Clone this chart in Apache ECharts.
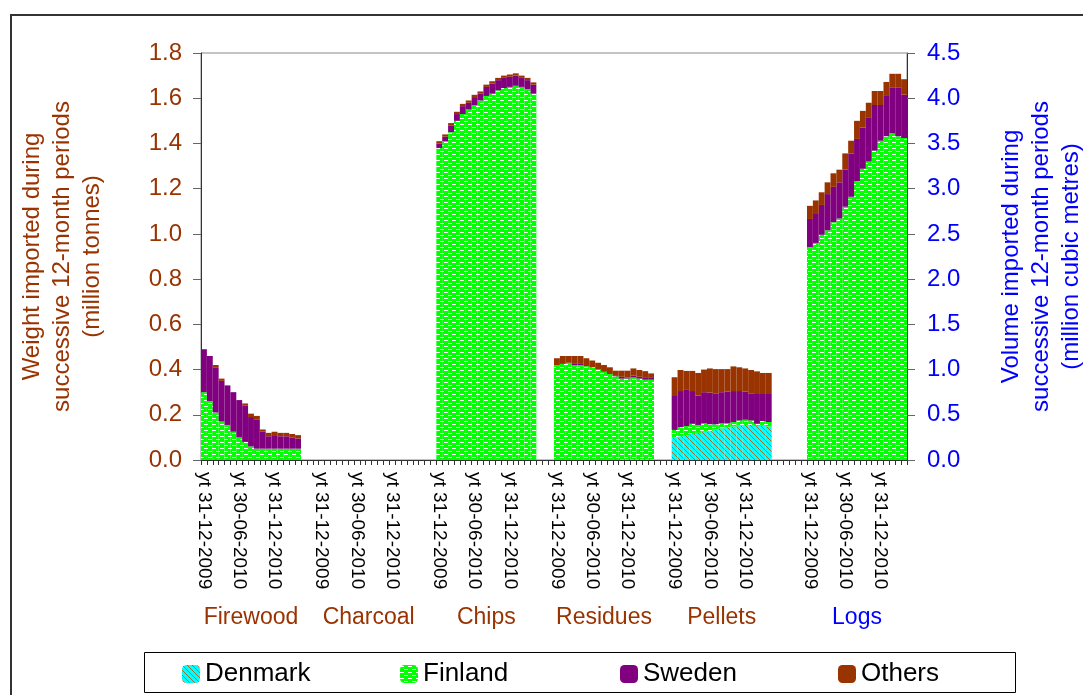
<!DOCTYPE html>
<html>
<head>
<meta charset="utf-8">
<script src="https://cdn.jsdelivr.net/npm/echarts@6/dist/echarts.min.js"></script>
<style>
html, body { margin: 0; padding: 0; background: #fff; overflow: hidden; }
#frame { position: absolute; left: 10px; top: 14px; width: 1100px; height: 720px; border-left: 2px solid #333; border-top: 2px solid #333; }
#chart { position: absolute; left: 0; top: 0; width: 1083px; height: 695px; }
</style>
</head>
<body>
<div id="frame"></div>
<div id="chart"></div>
<script>
// groups and months (17 successive 12-month periods per group)
var groups = ['Firewood', 'Charcoal', 'Chips', 'Residues', 'Pellets', 'Logs'];
var months = ['31-12-2009', '31-01-2010', '28-02-2010', '31-03-2010', '30-04-2010', '31-05-2010',
              '30-06-2010', '31-07-2010', '31-08-2010', '30-09-2010', '31-10-2010', '30-11-2010',
              '31-12-2010', '31-01-2011', '28-02-2011', '31-03-2011', '30-04-2011'];
var labelledMonths = ['31-12-2009', '30-06-2010', '31-12-2010'];
var countries = ['Denmark', 'Finland', 'Sweden', 'Others'];

// weight, million tonnes (left axis)
var firewoodDenmark = [0, 0, 0, 0, 0, 0, 0, 0, 0, 0, 0, 0, 0, 0, 0, 0, 0];
var firewoodFinland = [0.30, 0.26, 0.21, 0.17, 0.155, 0.125, 0.10, 0.08, 0.06, 0.05, 0.05, 0.05, 0.05, 0.05, 0.05, 0.05, 0.05];
var firewoodSweden  = [0.19, 0.20, 0.20, 0.18, 0.175, 0.175, 0.165, 0.16, 0.13, 0.13, 0.075, 0.055, 0.06, 0.055, 0.055, 0.05, 0.045];
var firewoodOthers  = [0, 0, 0.01, 0.01, 0, 0, 0, 0.01, 0.015, 0.015, 0.01, 0.015, 0.015, 0.015, 0.015, 0.015, 0.015];

var charcoalAll = [0, 0, 0, 0, 0, 0, 0, 0, 0, 0, 0, 0, 0, 0, 0, 0, 0];

var chipsDenmark = [0, 0, 0, 0, 0, 0, 0, 0, 0, 0, 0, 0, 0, 0, 0, 0, 0];
var chipsFinland = [1.38, 1.41, 1.45, 1.50, 1.53, 1.55, 1.57, 1.59, 1.61, 1.62, 1.635, 1.645, 1.65, 1.655, 1.65, 1.64, 1.62];
var chipsSweden  = [0.02, 0.02, 0.03, 0.03, 0.035, 0.03, 0.035, 0.03, 0.04, 0.045, 0.045, 0.045, 0.045, 0.045, 0.04, 0.04, 0.04];
var chipsOthers  = [0.01, 0.01, 0.01, 0.01, 0.01, 0.01, 0.01, 0.01, 0.01, 0.01, 0.01, 0.01, 0.01, 0.01, 0.01, 0.01, 0.01];

var residuesDenmark = [0, 0, 0, 0, 0, 0, 0, 0, 0, 0, 0, 0.004, 0.004, 0.004, 0.004, 0.004, 0.004];
var residuesFinland = [0.42, 0.425, 0.43, 0.42, 0.42, 0.415, 0.41, 0.40, 0.39, 0.38, 0.37, 0.356, 0.356, 0.361, 0.356, 0.351, 0.351];
var residuesSweden  = [0, 0, 0, 0.005, 0.005, 0, 0, 0, 0, 0, 0.005, 0.008, 0.005, 0.008, 0.008, 0.008, 0.008];
var residuesOthers  = [0.03, 0.035, 0.03, 0.035, 0.035, 0.035, 0.03, 0.03, 0.03, 0.03, 0.02, 0.027, 0.03, 0.032, 0.03, 0.03, 0.02];

var pelletsDenmark = [0.10, 0.105, 0.11, 0.115, 0.12, 0.125, 0.128, 0.135, 0.14, 0.145, 0.148, 0.152, 0.155, 0.155, 0.15, 0.152, 0.148];
var pelletsFinland = [0.033, 0.04, 0.04, 0.045, 0.035, 0.037, 0.03, 0.023, 0.022, 0.018, 0.02, 0.023, 0.023, 0.02, 0.01, 0.02, 0.02];
var pelletsSweden  = [0.15, 0.16, 0.16, 0.145, 0.13, 0.138, 0.14, 0.137, 0.138, 0.139, 0.137, 0.13, 0.125, 0.12, 0.132, 0.12, 0.124];
var pelletsOthers  = [0.083, 0.093, 0.084, 0.089, 0.10, 0.10, 0.107, 0.107, 0.102, 0.10, 0.109, 0.105, 0.102, 0.103, 0.10, 0.093, 0.093];

// volume, million cubic metres (right axis)
var logsDenmark = [0, 0, 0, 0, 0, 0, 0, 0, 0, 0, 0, 0, 0, 0, 0, 0, 0];
var logsFinland = [2.35, 2.40, 2.49, 2.54, 2.63, 2.67, 2.80, 2.91, 3.08, 3.22, 3.30, 3.42, 3.53, 3.58, 3.61, 3.58, 3.56];
var logsSweden  = [0.315, 0.32, 0.33, 0.40, 0.39, 0.40, 0.41, 0.48, 0.47, 0.455, 0.49, 0.505, 0.395, 0.445, 0.505, 0.535, 0.48];
var logsOthers  = [0.145, 0.15, 0.14, 0.13, 0.15, 0.14, 0.18, 0.14, 0.20, 0.185, 0.16, 0.155, 0.155, 0.155, 0.155, 0.155, 0.17];

var leftData = {
    Denmark: [firewoodDenmark, charcoalAll, chipsDenmark, residuesDenmark, pelletsDenmark],
    Finland: [firewoodFinland, charcoalAll, chipsFinland, residuesFinland, pelletsFinland],
    Sweden:  [firewoodSweden,  charcoalAll, chipsSweden,  residuesSweden,  pelletsSweden],
    Others:  [firewoodOthers,  charcoalAll, chipsOthers,  residuesOthers,  pelletsOthers]
};
var rightData = { Denmark: logsDenmark, Finland: logsFinland, Sweden: logsSweden, Others: logsOthers };

// category slot where each group starts (empty slots between groups)
var groupStart = [0, 20, 40, 60, 80, 103];
var slotCount = 120;

var categories = [];
for (var i = 0; i < slotCount; i++) categories.push('gap|' + i);
groups.forEach(function (g, gi) {
    months.forEach(function (m, mi) { categories[groupStart[gi] + mi] = g + '|' + m; });
});

function spread(groupArrays, firstGroup) {
    var out = [];
    for (var i = 0; i < slotCount; i++) out.push(null);
    groupArrays.forEach(function (arr, k) {
        var start = groupStart[firstGroup + k];
        arr.forEach(function (v, mi) { out[start + mi] = v; });
    });
    return out;
}

function makePattern(kind) {
    var c = document.createElement('canvas');
    var ctx = c.getContext('2d');
    if (kind === 'Finland') {
        c.width = 8; c.height = 6;
        ctx.fillStyle = '#00ff00'; ctx.fillRect(0, 0, 8, 6);
        ctx.fillStyle = '#ffffff';
        ctx.fillRect(0, 1, 4, 1);
        ctx.fillRect(4, 4, 4, 1);
    } else {
        c.width = 5; c.height = 5;
        ctx.fillStyle = '#00ffff'; ctx.fillRect(0, 0, 5, 5);
        ctx.fillStyle = '#a0702a';
        for (var k = 0; k < 5; k++) ctx.fillRect(k, k, 1, 1);
    }
    return { image: c, repeat: 'repeat' };
}

var colors = {
    Denmark: makePattern('Denmark'),
    Finland: makePattern('Finland'),
    Sweden: '#800080',
    Others: '#993300'
};

var series = [];
countries.forEach(function (name) {
    series.push({
        name: name, type: 'bar', stack: 'weight', yAxisIndex: 0,
        barCategoryGap: '0%', barGap: '-100%',
        itemStyle: { color: colors[name] },
        data: spread(leftData[name], 0)
    });
});
countries.forEach(function (name) {
    series.push({
        name: name, type: 'bar', stack: 'volume', yAxisIndex: 1,
        barCategoryGap: '0%', barGap: '-100%',
        itemStyle: { color: colors[name] },
        data: spread([rightData[name]], 5)
    });
});

var brown = '#993300';
var blue = '#0000ff';
var font = 'Liberation Sans, Arial, sans-serif';
var legendLeft = [182, 400, 620, 838];

var chart = echarts.init(document.getElementById('chart'));
chart.setOption({
    animation: false,
    textStyle: { fontFamily: font },
    grid: {
        left: 201, right: 176, top: 53, bottom: 235,
        outerBoundsMode: 'none', containLabel: false,
        show: true, borderColor: '#888', borderWidth: 1
    },
    legend: countries.map(function (name, i) {
        return {
            data: [name], left: legendLeft[i], top: 661, padding: 0, selectedMode: false,
            itemWidth: 18, itemHeight: 18, itemGap: 0,
            textStyle: { fontSize: 26, color: '#000', fontFamily: font }
        };
    }),
    graphic: [{
        type: 'rect', left: 142, top: 650, silent: true,
        shape: { width: 871, height: 40 },
        style: { fill: 'none', stroke: '#000', lineWidth: 1 }
    }],
    xAxis: [{
        type: 'category', data: categories, position: 'bottom',
        axisLine: { lineStyle: { color: '#333' } },
        axisTick: { show: true, interval: 0, length: 5, lineStyle: { color: '#333' } },
        axisLabel: {
            interval: 0, rotate: -90, margin: 12, fontSize: 19, color: '#000',
            formatter: function (v) {
                var m = v.split('|')[1];
                return (v.indexOf('gap') !== 0 && labelledMonths.indexOf(m) >= 0) ? 'yt ' + m : '';
            }
        }
    }, {
        type: 'category', data: categories, position: 'bottom', offset: 138,
        axisLine: { show: false }, axisTick: { show: false },
        axisLabel: {
            interval: 0, margin: 8, fontSize: 23,
            color: function (v) { return v.indexOf('Logs') === 0 ? blue : brown; },
            formatter: function (v) {
                var p = v.split('|');
                return (p[0] !== 'gap' && p[1] === months[8]) ? p[0] : '';
            }
        }
    }],
    yAxis: [{
        type: 'value', min: 0, max: 1.8, interval: 0.2, position: 'left',
        name: 'Weight imported during\nsuccessive 12-month periods\n(million tonnes)',
        nameLocation: 'middle', nameRotate: 90, nameGap: 94,
        nameTextStyle: { color: brown, fontSize: 24, lineHeight: 30, fontFamily: font },
        splitLine: { show: false },
        axisLine: { show: true, lineStyle: { color: '#333' } },
        axisTick: { show: true, length: 8, lineStyle: { color: '#666' } },
        axisLabel: { color: brown, fontSize: 24, margin: 19, formatter: function (v) { return v.toFixed(1); } }
    }, {
        type: 'value', min: 0, max: 4.5, interval: 0.5, position: 'right',
        name: 'Volume imported during\nsuccessive 12-month periods\n(million cubic metres)',
        nameLocation: 'middle', nameRotate: 90, nameGap: 89,
        nameTextStyle: { color: blue, fontSize: 24, lineHeight: 30, fontFamily: font },
        splitLine: { show: false },
        axisLine: { show: true, lineStyle: { color: '#333' } },
        axisTick: { show: true, length: 8, lineStyle: { color: '#666' } },
        axisLabel: { color: blue, fontSize: 24, margin: 20, formatter: function (v) { return v.toFixed(1); } }
    }],
    series: series
});
</script>
</body>
</html>
